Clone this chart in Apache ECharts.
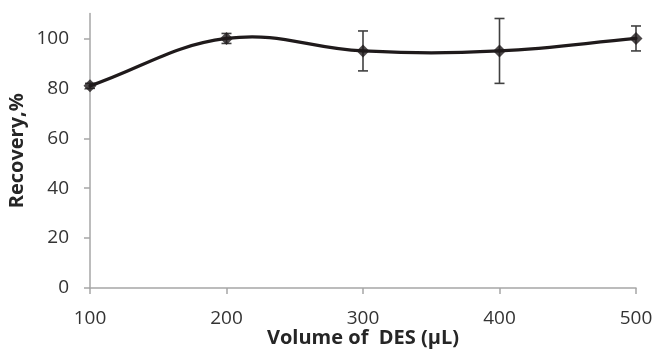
<!DOCTYPE html>
<html>
<head>
<meta charset="utf-8">
<script src="https://cdn.jsdelivr.net/npm/echarts@6/dist/echarts.min.js"></script>
<style>html,body{margin:0;padding:0;background:#fff}#c{width:655px;height:350px}</style>
</head>
<body>
<div id="c"></div>
<script>
var volumes = [100, 200, 300, 400, 500];
var recovery = [81, 100, 95, 95, 100];
var errors = [1, 2, 8, 13, 5];
var xTicks = [100, 200, 300, 400, 500];
var yTicks = [0, 20, 40, 60, 80, 100];

var chart = echarts.init(document.getElementById('c'));
var font = "'Open Sans', 'DejaVu Sans', sans-serif";
var axisGray = '#a6a6a6';
var lineColor = '#1f1a1b';
var tension = 0.2;
var lineData = volumes.map(function (v, i) { return [v, recovery[i]]; });
var errData = volumes.map(function (v, i) { return [v, recovery[i] - errors[i], recovery[i] + errors[i]]; });

function pt(api, i) {
  var n = volumes.length;
  if (i < 0) {
    var a = api.coord([volumes[0], recovery[0]]), b = api.coord([volumes[1], recovery[1]]);
    return [2 * a[0] - b[0], 2 * a[1] - b[1]];
  }
  if (i > n - 1) {
    var c = api.coord([volumes[n - 1], recovery[n - 1]]), d = api.coord([volumes[n - 2], recovery[n - 2]]);
    return [2 * c[0] - d[0], 2 * c[1] - d[1]];
  }
  return api.coord([volumes[i], recovery[i]]);
}

chart.setOption({
  animation: false,
  grid: { left: 90, right: 19, top: 13.5, bottom: 62, outerBoundsMode: 'none' },
  xAxis: {
    type: 'value', min: 100, max: 500, interval: 100,
    name: 'Volume of  DES (\u00b5L)', nameLocation: 'middle', nameGap: 40, nameMoveOverlap: false,
    nameTextStyle: { fontFamily: font, fontWeight: 'bold', fontSize: 20, color: '#262626' },
    axisLine: { lineStyle: { color: axisGray, width: 1.5 } },
    axisTick: { show: true, length: 6, lineStyle: { color: axisGray, width: 1.5 }, customValues: xTicks },
    axisLabel: { fontFamily: font, fontSize: 19, color: '#333', margin: 21, customValues: xTicks },
    splitLine: { show: false }
  },
  yAxis: {
    type: 'value', min: 0, max: 110, interval: 20,
    name: 'Recovery,%', nameLocation: 'middle', nameGap: 63, nameMoveOverlap: false,
    nameTextStyle: { fontFamily: font, fontWeight: 'bold', fontSize: 20, color: '#262626' },
    axisLine: { show: true, lineStyle: { color: axisGray, width: 1.5 } },
    axisTick: { show: true, length: 6, lineStyle: { color: axisGray, width: 1.5 }, customValues: yTicks },
    axisLabel: { fontFamily: font, fontSize: 19, color: '#333', margin: 21, customValues: yTicks },
    splitLine: { show: false }
  },
  series: [
    {
      type: 'custom',
      name: 'error',
      data: errData,
      z: 1,
      renderItem: function (params, api) {
        var x = api.value(0);
        var lo = api.coord([x, api.value(1)]);
        var hi = api.coord([x, api.value(2)]);
        var w = 5;
        var style = { stroke: '#404040', lineWidth: 1.6 };
        return {
          type: 'group',
          children: [
            { type: 'line', shape: { x1: hi[0], y1: hi[1], x2: lo[0], y2: lo[1] }, style: style },
            { type: 'line', shape: { x1: hi[0] - w, y1: hi[1], x2: hi[0] + w, y2: hi[1] }, style: style },
            { type: 'line', shape: { x1: lo[0] - w, y1: lo[1], x2: lo[0] + w, y2: lo[1] }, style: style }
          ]
        };
      }
    },
    {
      type: 'custom',
      name: 'curve',
      data: lineData,
      z: 2,
      renderItem: function (params, api) {
        var i = params.dataIndex;
        if (i >= volumes.length - 1) return null;
        var p0 = pt(api, i - 1), p1 = pt(api, i), p2 = pt(api, i + 1), p3 = pt(api, i + 2);
        var c1 = [p1[0] + (p2[0] - p0[0]) * tension, p1[1] + (p2[1] - p0[1]) * tension];
        var c2 = [p2[0] - (p3[0] - p1[0]) * tension, p2[1] - (p3[1] - p1[1]) * tension];
        return {
          type: 'bezierCurve',
          shape: { x1: p1[0], y1: p1[1], x2: p2[0], y2: p2[1], cpx1: c1[0], cpy1: c1[1], cpx2: c2[0], cpy2: c2[1] },
          style: { stroke: lineColor, lineWidth: 3.2, fill: null, lineCap: 'round' }
        };
      }
    },
    {
      type: 'scatter',
      name: 'points',
      data: lineData,
      z: 3,
      symbol: 'diamond',
      symbolSize: 13,
      itemStyle: { color: lineColor }
    }
  ]
});
</script>
</body>
</html>
